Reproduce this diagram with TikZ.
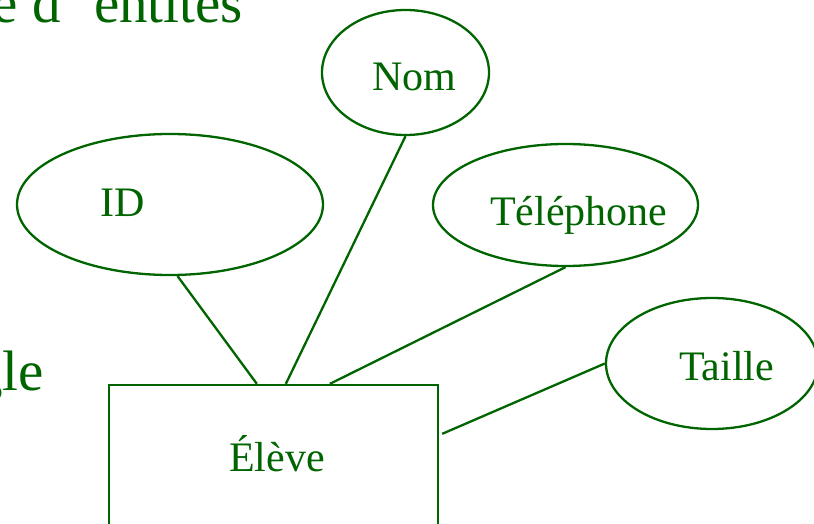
\documentclass[tikz,border=0pt]{standalone}
\usepackage{fontspec}
\setmainfont{Liberation Serif}
\usetikzlibrary{shapes.geometric,calc}
\definecolor{erg}{RGB}{0,100,0}
\tikzset{
  er/.style={draw=erg, line width=2.3pt},
  attr/.style={er, ellipse, inner sep=0pt},
  entity/.style={er, rectangle, inner sep=0pt},
  lbl/.style={text=erg, inner sep=0pt, anchor=base west, font=\fontsize{42}{46}\selectfont},
  big/.style={text=erg, inner sep=0pt, anchor=base east, font=\fontsize{57}{62}\selectfont},
  link/.style={er}
}
\begin{document}
\begin{tikzpicture}[x=1pt,y=-1pt]
\useasboundingbox (0,0) rectangle (814,524);
\clip (0,0) rectangle (814,524);

% slide text around the diagram
\node[big] (title) at (243,23) {e d' entités};
\node[big] (side) at (44,390) {gle};

% attributes
\node[attr, minimum width=167pt, minimum height=125pt] (nom) at (405.5,72.5) {};
\node[attr, minimum width=306pt, minimum height=141pt] (id) at (170,204.5) {};
\node[attr, minimum width=265pt, minimum height=122pt] (tel) at (565.5,205) {};
\node[attr, minimum width=212pt, minimum height=131pt] (taille) at (712,363.5) {};

\node[lbl] (nomt) at (372,90.7) {Nom};
\node[lbl] (idt) at (100,216) {ID};
\node[lbl] (telt) at (490,225.7) {Téléphone};
\node[lbl] (taillet) at (679,380) {Taille};

% entity
\node[entity, minimum width=329pt, minimum height=240pt] (eleve) at (273.5,505) {};
\node[lbl] (elevet) at (229,471.7) {Élève};

\coordinate (eid) at ($(eleve.north west)+(149,0)$);
\coordinate (enom) at ($(eleve.north west)+(178,0)$);
\coordinate (etel) at ($(eleve.north west)+(222,0)$);
\coordinate (etaille) at ($(eleve.north east)+(3,50)$);

\draw[link] (id.-84) -- (eid);
\draw[link] (nom.south) -- (enom);
\draw[link] (tel.south) -- (etel);
\draw[link] (taille.west) -- (etaille);
\end{tikzpicture}
\end{document}
